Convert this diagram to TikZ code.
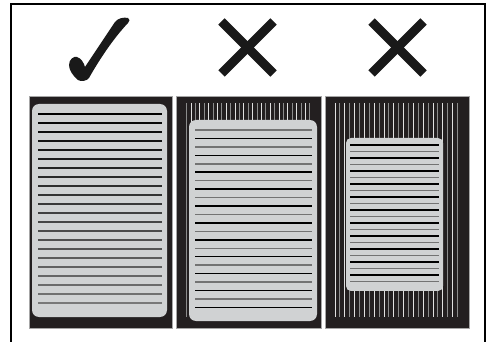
\documentclass[tikz,border=0pt]{standalone}
\begin{document}
\begin{tikzpicture}[x=1pt,y=-1pt,
  panelbox/.style={fill=paneldark,draw=black!35,line width=0.6},
  pagebox/.style={fill=pagegray,rounded corners=7},
  stripelight/.style={draw=black!12,line width=1},
  stripedark/.style={draw=black!45,line width=1},
  rulelight/.style={draw=black!55,line width=1.5},
  ruledark/.style={draw=black,line width=1.5},
  crossarm/.style={line width=9,draw=black!90,line cap=butt}]
\definecolor{paneldark}{HTML}{231F20}
\definecolor{pagegray}{HTML}{D0D2D3}
\useasboundingbox (0,0) rectangle (488,342);
\fill[white] (0,0) rectangle (488,342);
% frame
\draw[line width=2] (11,343) -- (11,4) -- (485,4) -- (485,343);
% check mark
\fill[black!90] (78,80) .. controls (73,76) and (69,70) .. (69,65)
  .. controls (69,59) and (74,56) .. (77,57)
  .. controls (81,58) and (84,63) .. (85,67) -- (115,22)
  .. controls (118,18) and (124,17) .. (128,18)
  .. controls (130,19) and (130,21) .. (128,23)
  .. controls (112,40) and (98,62) .. (89,78)
  .. controls (87,81) and (81,82) .. (78,80) -- cycle;
% crosses
\coordinate (x1) at (247.5,47.5);
\coordinate (x2) at (397.5,47.5);
\foreach \c in {x1,x2}{
  \draw[crossarm] ([shift={(-26,-26)}]\c) -- ([shift={(26,26)}]\c);
  \draw[crossarm] ([shift={(-26,26)}]\c) -- ([shift={(26,-26)}]\c);
}
% panel 1
\node[panelbox,inner sep=0,minimum width=143,minimum height=232] (p1) at (100.5,212) {};
\fill[pagegray,rounded corners=7] (32,104) rectangle (167,317);
\foreach \k in {0,...,21}{
  \pgfmathtruncatemacro{\shade}{100-\k*2.2}
  \draw[line width=1.5,draw=black!\shade] (38,114+9*\k) -- (162,114+9*\k);
}
% panel 2
\node[panelbox,inner sep=0,minimum width=145,minimum height=232] (p2) at (248.5,212) {};
\foreach \k in {0,...,27}{
  \pgfmathtruncatemacro{\m}{mod(\k,2)}
  \ifnum\m=0
    \draw[stripelight] (191+4.4*\k,103) -- (191+4.4*\k,125);
  \else
    \draw[stripedark] (191+4.4*\k,103) -- (191+4.4*\k,125);
  \fi
}
\draw[stripedark] (186.5,103) -- (186.5,317);
\fill[pagegray,rounded corners=7] (189,120) rectangle (317,321);
\foreach \k in {0,...,21}{
  \pgfmathtruncatemacro{\m}{mod(\k,2)}
  \ifnum\m=0
    \draw[rulelight] (195,130+8.45*\k) -- (312,130+8.45*\k);
  \else
    \draw[ruledark] (195,130+8.45*\k) -- (312,130+8.45*\k);
  \fi
}
% panel 3
\node[panelbox,inner sep=0,minimum width=144,minimum height=232] (p3) at (397,212) {};
\foreach \k in {0,...,25}{
  \pgfmathtruncatemacro{\m}{mod(\k,2)}
  \ifnum\m=0
    \draw[stripelight] (335+4.9*\k,103) -- (335+4.9*\k,317);
  \else
    \draw[stripedark] (335+4.9*\k,103) -- (335+4.9*\k,317);
  \fi
}
\fill[pagegray,rounded corners=5] (346,138) rectangle (443,291);
\foreach \k in {0,...,21}{
  \pgfmathtruncatemacro{\m}{mod(\k,2)}
  \ifnum\m=0
    \draw[ruledark,line width=1.2] (350,145+6.5*\k) -- (439,145+6.5*\k);
  \else
    \draw[rulelight,line width=1.2] (350,145+6.5*\k) -- (439,145+6.5*\k);
  \fi
}
\end{tikzpicture}
\end{document}
